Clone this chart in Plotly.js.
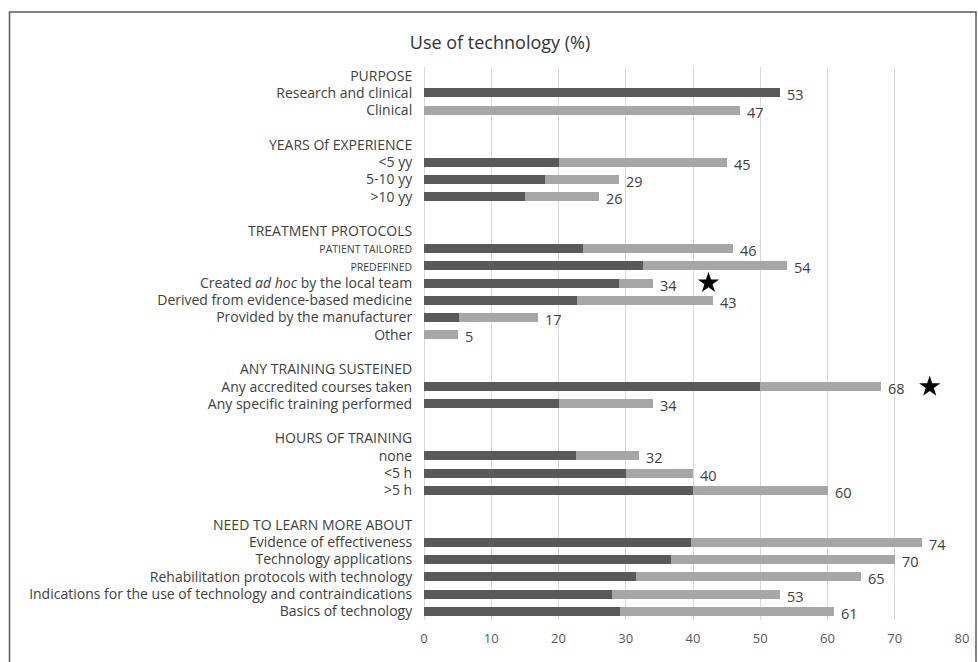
<!DOCTYPE html>
<html>
<head>
<meta charset="utf-8">
<script src="https://cdn.plot.ly/plotly-3.0.1.min.js"></script>
<style>html,body{margin:0;padding:0;background:#fff;}#chart{width:978px;height:662px;}</style>
</head>
<body>
<div id="chart"></div>
<script>
// Row labels (top to bottom); '' = blank spacer row
const rowLabels = [
  'PURPOSE', 'Research and clinical', 'Clinical', '',
  'YEARS Of EXPERIENCE', '<5 yy', '5-10 yy', '>10 yy', '',
  'TREATMENT PROTOCOLS', '<span style="font-size:10.5px">PATIENT TAILORED</span>', '<span style="font-size:10.5px">PREDEFINED</span>',
  'Created <i>ad hoc</i> by the local team', 'Derived from evidence-based medicine',
  'Provided by the manufacturer', 'Other', '',
  'ANY TRAINING SUSTEINED', 'Any accredited courses taken', 'Any specific training performed', '',
  'HOURS OF TRAINING', 'none', '<5 h', '>5 h', '',
  'NEED TO LEARN MORE ABOUT', 'Evidence of effectiveness', 'Technology applications',
  'Rehabilitation protocols with technology', 'Indications for the use of technology and contraindications',
  'Basics of technology'
];
// Values per row (null = header / blank row)
const darkValues = [
  null, 53, 0, null,
  null, 20, 18, 15, null,
  null, 23.7, 32.6, 29, 22.7, 5.2, 0, null,
  null, 50, 20, null,
  null, 22.6, 30, 40, null,
  null, 39.7, 36.7, 31.5, 28, 29.2
];
const totalValues = [
  null, 53, 47, null,
  null, 45, 29, 26, null,
  null, 46, 54, 34, 43, 17, 5, null,
  null, 68, 34, null,
  null, 32, 40, 60, null,
  null, 74, 70, 65, 53, 61
];
// Significance stars: row index and x position
const starRows = [12, 18];
const starX = [42.3, 75.2];

const rows = rowLabels.map((_, i) => i);
const barRows = rows.filter(i => totalValues[i] !== null);
const dark = barRows.map(i => darkValues[i]);
const light = barRows.map(i => +(totalValues[i] - darkValues[i]).toFixed(2));
const totals = barRows.map(i => totalValues[i]);

const W = 978, H = 662;
const M = {l: 424, r: 16, t: 67, b: 42};
const pw = W - M.l - M.r, ph = H - M.t - M.b;
const px2x = p => (p - M.l) / pw;
const py2y = p => 1 - (p - M.t) / ph;

const traces = [
  {type: 'bar', orientation: 'h', y: barRows, x: dark, marker: {color: '#595959'}, width: 0.52, hoverinfo: 'x'},
  {type: 'bar', orientation: 'h', y: barRows, x: light, marker: {color: '#a6a6a6'}, width: 0.52, hoverinfo: 'x'},
  {type: 'scatter', mode: 'markers', y: starRows, x: starX, marker: {symbol: 'star', size: 16, color: '#000'}, hoverinfo: 'skip', cliponaxis: false}
];

const labelAnnotations = barRows.map((r, k) => ({
  x: totals[k], y: r, xref: 'x', yref: 'y', text: String(totals[k]), showarrow: false,
  xanchor: 'left', yanchor: 'middle', xshift: 5, yshift: -2,
  font: {family: 'Open Sans', size: 14.5, color: '#404040'}
}));

const layout = {
  width: W, height: H,
  margin: M,
  barmode: 'stack',
  showlegend: false,
  plot_bgcolor: '#fff', paper_bgcolor: '#fff',
  font: {family: 'Open Sans', color: '#404040'},
  title: {text: 'Use of technology (%)', font: {family: 'Open Sans', size: 18, color: '#333'},
          xref: 'container', yref: 'container', x: 500 / W, y: 1 - 43 / H, xanchor: 'center', yanchor: 'middle'},
  xaxis: {range: [0, 80], dtick: 10, showgrid: true, gridcolor: '#d9d9d9', gridwidth: 1,
          zeroline: true, zerolinecolor: '#d9d9d9', showline: false,
          ticks: 'outside', ticklen: 6, tickcolor: 'rgba(0,0,0,0)',
          tickfont: {family: 'Open Sans', size: 13, color: '#595959'}, fixedrange: true},
  yaxis: {range: [31.5, -0.5], tickmode: 'array', tickvals: rows, ticktext: rowLabels,
          showgrid: false, zeroline: false, showline: false,
          ticks: 'outside', ticklen: 8, tickcolor: 'rgba(0,0,0,0)',
          tickfont: {family: 'Open Sans', size: 14, color: '#404040'}, fixedrange: true},
  annotations: labelAnnotations,
  shapes: [{type: 'rect', xref: 'paper', yref: 'paper',
            x0: px2x(9.5), x1: px2x(976), y0: py2y(700), y1: py2y(12),
            line: {color: '#595959', width: 1.5}, fillcolor: 'rgba(0,0,0,0)'}]
};

Plotly.newPlot('chart', traces, layout, {displayModeBar: false, staticPlot: true});
</script>
</body>
</html>
